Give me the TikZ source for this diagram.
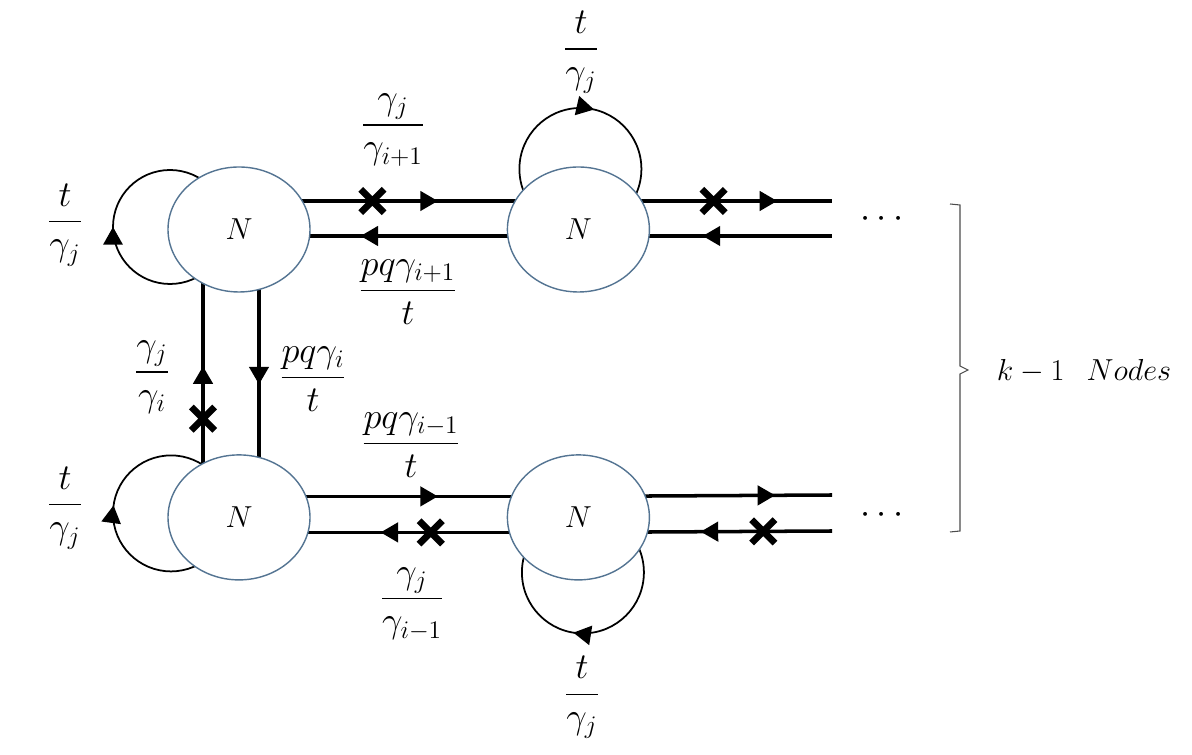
\documentclass[tikz,border=0pt]{standalone}
\usepackage{amsmath}
\usetikzlibrary{positioning,arrows.meta,shapes,decorations.markings,backgrounds,calc}
\definecolor{nodeblue}{RGB}{84,116,146}
\tikzstyle{nbox}=[ellipse, draw=nodeblue, fill=white, line width=0.8pt,
                  minimum width=28.4mm, minimum height=25mm, inner sep=0pt,
                  font=\fontsize{18}{22}\selectfont]
\tikzstyle{pline}=[-, line width=2pt]
\tikzstyle{lloop}=[-, line width=1pt]
\tikzstyle{xmark}=[cross out, draw=black, line width=3.8pt, minimum size=9.5pt, inner sep=0pt]
\tikzstyle{flab}=[font=\fontsize{20}{24}\selectfont]
\tikzset{fwd/.style={postaction={decorate,decoration={markings,
           mark=at position #1 with {\arrow{Triangle[length=10pt,width=11pt]}}}}},
         bwd/.style={postaction={decorate,decoration={markings,
           mark=at position #1 with {\arrowreversed{Triangle[length=10pt,width=11pt]}}}}}}
\begin{document}
\begin{tikzpicture}
\useasboundingbox (0,0) rectangle (23.84,15.1);

\node (TL) [nbox] at (4.78,10.51) {$N$};
\node (TR) [nbox, right=39.2mm of TL] {$N$};
\node (BL) [nbox, below=32.3mm of TL] {$N$};
\node (BR) [nbox, right=39.2mm of BL] {$N$};
\coordinate (TE) at (16.64,10.51);
\coordinate (BE) at (16.64,4.78);

\begin{scope}[on background layer]
 % upper row
 \draw[pline, fwd=0.586] ([yshift=5.7mm]TL.center) -- node[xmark, pos=0.393] (x1) {} ([yshift=5.7mm]TR.center);
 \draw[pline, bwd=0.358] ([yshift=-1.3mm]TL.center) -- ([yshift=-1.3mm]TR.center);
 \draw[pline, fwd=0.784] ([yshift=5.7mm]TR.center) -- node[xmark, pos=0.533] (x2) {} ([yshift=5.7mm]TE);
 \draw[pline, bwd=0.49]  ([yshift=-1.3mm]TR.center) -- ([yshift=-1.3mm]TE);
 % lower row
 \draw[pline, fwd=0.586] ([yshift=4.2mm]BL.center) -- ([yshift=4.2mm]BR.center);
 \draw[pline, bwd=0.417] ([yshift=-3mm]BL.center) -- node[xmark, pos=0.565] (x3) {} ([yshift=-3mm]BR.center);
 \draw[pline, fwd=0.776] ([yshift=4.2mm]BR.center) -- ([yshift=4.2mm]BE);
 \draw[pline, bwd=0.482] ([yshift=-3mm]BR.center) -- node[xmark, pos=0.729] (x4) {} ([yshift=-3mm]BE);
 % between the rows
 \draw[pline, fwd=0.525] ([xshift=-7.2mm]BL.center) -- node[xmark, pos=0.343] (x5) {} ([xshift=-7.2mm]TL.center);
 \draw[pline, fwd=0.538] ([xshift=4mm]TL.center) -- ([xshift=4mm]BL.center);
 % self loops
 \draw[lloop, bwd=0.5]   ([shift={(-1.38,0.05)}]TL.center) circle (1.14cm);
 \draw[lloop, bwd=0.478] ([shift={(-1.36,0.08)}]BL.center) circle (1.16cm);
 \draw[lloop, bwd=0.214] ([shift={(0.04,1.21)}]TR.center) circle (1.22cm);
 \draw[lloop, bwd=0.725] ([shift={(0.09,-1.1)}]BR.center) circle (1.22cm);
\end{scope}

\node (LTL) [flab] at (1.3,10.6) {$\dfrac{t}{\gamma_j}$};
\node (LTR) [flab] at (11.62,14.05) {$\dfrac{t}{\gamma_j}$};
\node (LBL) [flab] at (1.3,4.94) {$\dfrac{t}{\gamma_j}$};
\node (LBR) [flab] at (11.64,1.15) {$\dfrac{t}{\gamma_j}$};
\node (LUP) [flab] at (7.86,12.5) {$\dfrac{\gamma_j}{\gamma_{i+1}}$};
\node (LDN) [flab] at (8.16,9.26) {$\dfrac{pq\gamma_{i+1}}{t}$};
\node (LVA) [flab] at (3.04,7.56) {$\dfrac{\gamma_j}{\gamma_i}$};
\node (LVB) [flab] at (6.26,7.52) {$\dfrac{pq\gamma_i}{t}$};
\node (LBU) [flab] at (8.22,6.2) {$\dfrac{pq\gamma_{i-1}}{t}$};
\node (LBD) [flab] at (8.24,3.02) {$\dfrac{\gamma_j}{\gamma_{i-1}}$};

\node (DT) [flab] at (17.7,10.72) {$\cdots$};
\node (DB) [flab] at (17.7,4.8) {$\cdots$};

\draw[gray!60!black, line width=0.6pt] (19.0,11.02) -- (19.2,11.0) -- (19.2,7.78)
   -- (19.36,7.7) -- (19.2,7.62) -- (19.2,4.48) -- (19.0,4.46);
\node (KN) [font=\fontsize{18}{22}\selectfont] at (21.68,7.68) {$k-1\hspace{0.7em}Nodes$};

\end{tikzpicture}
\end{document}
